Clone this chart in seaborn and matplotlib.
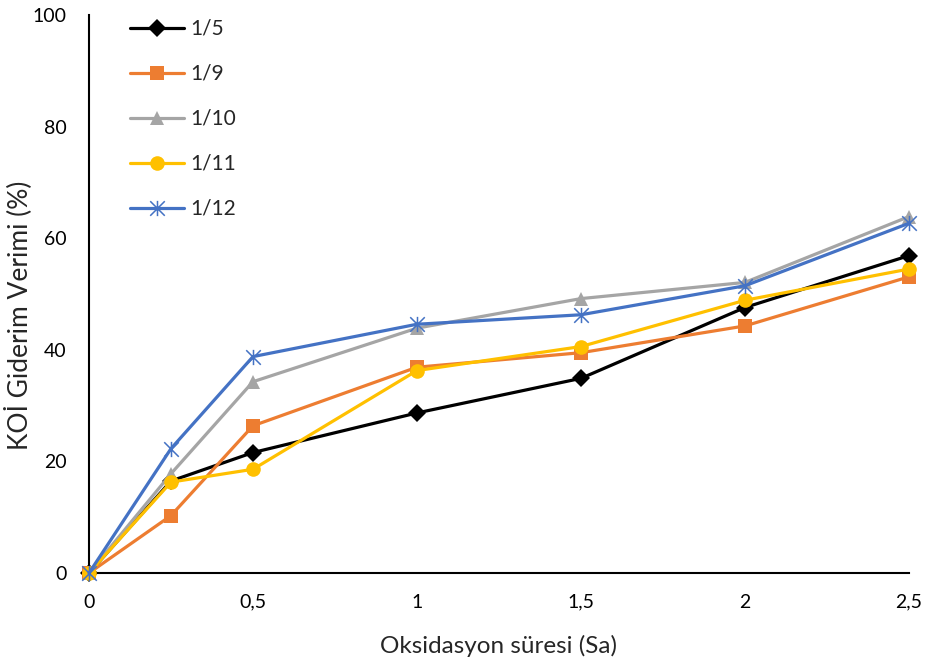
import matplotlib
matplotlib.use("Agg")
import matplotlib.pyplot as plt
from matplotlib.path import Path
import seaborn as sns
import pandas as pd

# Oxidation time (hours) and COD removal efficiency (%) for each ratio
sure = [0, 0.25, 0.5, 1, 1.5, 2, 2.5]
oran_1_5 = [0, 16.5, 21.6, 28.7, 34.9, 47.6, 56.9]
oran_1_9 = [0, 10.3, 26.4, 36.9, 39.5, 44.3, 53.1]
oran_1_10 = [0, 17.8, 34.3, 43.9, 49.2, 52.1, 63.9]
oran_1_11 = [0, 16.3, 18.6, 36.3, 40.6, 48.9, 54.5]
oran_1_12 = [0, 22.3, 38.8, 44.6, 46.3, 51.5, 62.7]

seri_adlari = ["1/5", "1/9", "1/10", "1/11", "1/12"]
x_etiketleri = ["0", "0,5", "1", "1,5", "2", "2,5"]

sns.set_theme(style="white")
plt.rcParams["font.family"] = ["Lato", "DejaVu Sans"]

# asterisk marker: an x with a vertical bar through it
yildiz = Path(
    [(-1, -1), (1, 1), (-1, 1), (1, -1), (0, -1.05), (0, 1.05)],
    [Path.MOVETO, Path.LINETO, Path.MOVETO, Path.LINETO, Path.MOVETO, Path.LINETO],
)

stiller = [
    dict(color="#000000", marker="D", markersize=9, mew=0),
    dict(color="#ED7D31", marker="s", markersize=10.5, mew=0),
    dict(color="#A5A5A5", marker="^", markersize=10.5, mew=0),
    dict(color="#FFC000", marker="o", markersize=10.5, mew=0),
    dict(color="#4472C4", marker=yildiz, markersize=11, mew=1.1,
         markerfacecolor="none", markeredgecolor="#4472C4"),
]

df = pd.DataFrame({"sure": sure, "1/5": oran_1_5, "1/9": oran_1_9,
                   "1/10": oran_1_10, "1/11": oran_1_11, "1/12": oran_1_12})

fig = plt.figure(figsize=(9.26, 6.62), dpi=100)
ax = fig.add_axes([0.0961, 0.1344, 0.8855, 0.8426])

for ad, st in zip(seri_adlari, stiller):
    kw = dict(st)
    if "markeredgecolor" not in kw:
        kw["markeredgecolor"] = kw["color"]
    sns.lineplot(data=df, x="sure", y=ad, ax=ax, label=ad, linewidth=2.3,
                 clip_on=False, zorder=3, **kw)

ax.set_xlim(0, 2.5)
ax.set_ylim(0, 100)
ax.set_xticks([0, 0.5, 1, 1.5, 2, 2.5])
ax.set_xticklabels(x_etiketleri)
ax.set_yticks([0, 20, 40, 60, 80, 100])
ax.tick_params(axis="both", length=0, labelsize=14, colors="#000000")
ax.tick_params(axis="y", pad=16)
ax.tick_params(axis="x", pad=15)

for s in ["top", "right"]:
    ax.spines[s].set_visible(False)
for s in ["left", "bottom"]:
    ax.spines[s].set_color("#000000")
    ax.spines[s].set_linewidth(1.5)

ax.set_xlabel("Oksidasyon süresi (Sa)", fontsize=17.5, labelpad=17)
ax.set_ylabel("KOİ Giderim Verimi (%)", fontsize=19)
ax.yaxis.set_label_coords(-0.07, 0.462)

leg = ax.legend(loc="upper left", bbox_to_anchor=(0.0348, 1.016), frameon=False,
                fontsize=15, handlelength=2.6, labelspacing=1.2,
                handletextpad=0.3, borderaxespad=0.2)

fig.savefig("out.png", dpi=100)
